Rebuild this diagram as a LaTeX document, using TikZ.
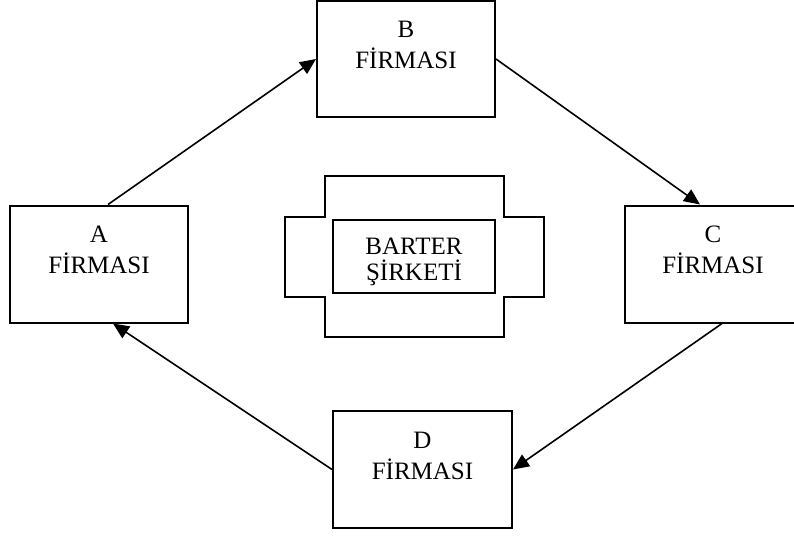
\documentclass[tikz,border=0pt]{standalone}
\usepackage{fontspec}
\setmainfont{Liberation Serif}
\usetikzlibrary{arrows.meta}
\begin{document}
\begin{tikzpicture}[x=1pt,y=-1pt,
 firm/.style={draw, line width=2pt, minimum width=178pt, minimum height=117pt, inner sep=0pt},
 lbl/.style={font=\fontsize{25}{31}\selectfont, align=center, inner sep=0pt},
 innerbox/.style={draw, line width=2pt, minimum width=162pt, minimum height=73pt, inner sep=0pt},
 blbl/.style={font=\fontsize{25}{26}\selectfont, align=center, inner sep=0pt},
 frame/.style={line width=2pt},
 conn/.style={line width=1.6pt, -{Triangle[length=16pt,width=14pt]}}]
\useasboundingbox (0,0) rectangle (794,535);
\clip (0,0) rectangle (794,535);
\node[firm] (A) at (99,264) {};
\node[firm, minimum height=116pt] (B) at (406,59) {};
\node[firm, minimum width=176pt] (C) at (713,264) {};
\node[firm, minimum width=179pt] (D) at (422.5,469.5) {};
\node[lbl] (At) at ([yshift=14pt]A.center) {A\\FİRMASI};
\node[lbl] (Bt) at ([yshift=14pt]B.center) {B\\FİRMASI};
\node[lbl] (Ct) at ([yshift=14pt]C.center) {C\\FİRMASI};
\node[lbl] (Dt) at ([yshift=14pt]D.center) {D\\FİRMASI};
\draw[frame] (325,176) -- (504,176) -- (504,217) -- (544,217) -- (544,297) -- (504,297)
  -- (504,337) -- (325,337) -- (325,297) -- (285,297) -- (285,217) -- (325,217) -- cycle;
\node[innerbox] (S) at (414,256.5) {};
\node[blbl] (St) at ([yshift=-5pt]S.center) {BARTER\\ŞİRKETİ};
\draw[conn] ([xshift=9pt]A.north) -- (B.west);
\draw[conn] (B.east) -- ([xshift=-13pt]C.north);
\draw[conn] ([xshift=9pt]C.south) -- (D.east);
\draw[conn] (D.west) -- ([xshift=14pt]A.south);
\end{tikzpicture}
\end{document}
